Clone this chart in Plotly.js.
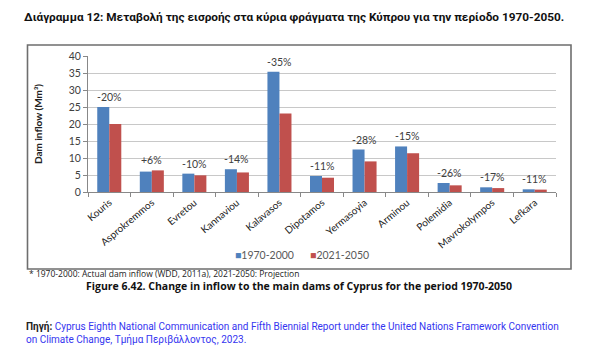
<!DOCTYPE html>
<html>
<head>
<meta charset="utf-8">
<script src="https://cdn.plot.ly/plotly-3.0.1.min.js"></script>
<style>
  html, body { margin: 0; padding: 0; background: #ffffff; }
  #chart { width: 600px; height: 354px; }
</style>
</head>
<body>
<div id="chart"></div>
<script>
// Main dams of Cyprus and their mean annual inflow (Mm³)
const dams = ["Kouris", "Asprokremmos", "Evretou", "Kannaviou", "Kalavasos", "Dipotamos",
              "Yermasoyia", "Arminou", "Polemidia", "Mavrokolympos", "Lefkara"];
const inflow1970_2000 = [25.0, 6.0, 5.4, 6.7, 35.4, 4.7, 12.5, 13.4, 2.65, 1.38, 0.79];
const inflow2021_2050 = [20.0, 6.36, 4.9, 5.75, 23.1, 4.2, 9.0, 11.4, 1.96, 1.15, 0.70];
const changeLabels = ["-20%", "+6%", "-10%", "-14%", "-35%", "-11%", "-28%", "-15%", "-26%", "-17%", "-11%"];
const seriesNames = ["1970-2000", "2021-2050"];
const seriesColors = ["#4f81bd", "#c0504d"];
const yTicks = [0, 5, 10, 15, 20, 25, 30, 35, 40];

// plot area in pixels
const L = 88, R = 556, T = 56, B = 192;
const W = 600, H = 354;
const xp = px => (px - L) / (R - L);
const yp = py => (B - py) / (B - T);

const chartFont = "Lato, 'Open Sans', sans-serif";

const traces = [
  { type: "bar", name: seriesNames[0], x: dams, y: inflow1970_2000,
    marker: { color: seriesColors[0] } },
  { type: "bar", name: seriesNames[1], x: dams, y: inflow2021_2050,
    marker: { color: seriesColors[1] } }
];

// change labels above each pair of bars
const changeNotes = dams.map((d, i) => ({
  x: d, y: Math.max(inflow1970_2000[i], inflow2021_2050[i]),
  xref: "x", yref: "y", text: changeLabels[i], showarrow: false,
  yanchor: "bottom", yshift: 2,
  font: { family: chartFont, size: 10.5, color: "#404040" }
}));

// compact legend row under the axis
const legendText = seriesNames.map((n, i) =>
  "<span style='color:" + seriesColors[i] + "'>■</span>" + n).join("      ");

const textNotes = [
  { x: xp(302), y: yp(255), xref: "paper", yref: "paper", xanchor: "center", yanchor: "middle",
    showarrow: false, text: legendText,
    font: { family: chartFont, size: 10.5, color: "#595959" } },
  { // footnote under the chart frame
    x: xp(27), y: yp(273), xref: "paper", yref: "paper", xanchor: "left", yanchor: "middle",
    showarrow: false, text: "* 1970-2000: Actual dam inflow (WDD, 2011a), 2021-2050: Projection",
    font: { family: "'Open Sans', sans-serif", size: 8.5, color: "#222222" } },
  { // figure caption
    x: xp(299), y: yp(286), xref: "paper", yref: "paper", xanchor: "center", yanchor: "middle",
    showarrow: false, text: "<b>Figure 6.42. Change in inflow to the main dams of Cyprus for the period 1970-2050</b>",
    font: { family: "'Open Sans', sans-serif", size: 10.5, color: "#111111" } },
  { // source
    x: xp(24), y: yp(333), xref: "paper", yref: "paper", xanchor: "left", yanchor: "middle",
    align: "left", showarrow: false,
    text: "<b><span style='color:#222222'>Πηγή:</span></b> Cyprus Eighth National Communication and Fifth Biennial Report under the United Nations Framework Convention<br>on Climate Change, Τμήμα Περιβάλλοντος, 2023.",
    font: { family: "Roboto, sans-serif", size: 10, color: "#3535f0" } }
];

const layout = {
  width: W, height: H,
  margin: { l: L, r: W - R, t: T, b: H - B, pad: 0 },
  paper_bgcolor: "#ffffff", plot_bgcolor: "#ffffff",
  barmode: "group", bargap: 0.435, bargroupgap: 0,
  showlegend: false,
  title: {
    text: "<b>Διάγραμμα 12: Μεταβολή της εισροής στα κύρια φράγματα της Κύπρου για την περίοδο 1970-2050.</b>",
    x: 24 / W, xref: "container", xanchor: "left", y: 1 - 17 / H, yref: "container", yanchor: "middle",
    font: { family: "Roboto, sans-serif", size: 11.8, color: "#111111" }
  },
  xaxis: {
    type: "category", tickangle: -40, ticks: "outside", tickson: "boundaries",
    ticklen: 4, tickcolor: "#888888", showline: true, linecolor: "#888888", linewidth: 1,
    showgrid: false, zeroline: false,
    tickfont: { family: chartFont, size: 10, color: "#222222" }
  },
  yaxis: {
    range: [0, 40], tickvals: yTicks, ticks: "outside", ticklen: 4, tickcolor: "#888888",
    showline: true, linecolor: "#888888", linewidth: 1,
    showgrid: true, gridcolor: "#c8c8c8", gridwidth: 1, zeroline: false,
    tickfont: { family: chartFont, size: 10.5, color: "#404040" },
    title: { text: "<b>Dam inflow (Mm³)</b>", standoff: 24,
             font: { family: chartFont, size: 10, color: "#222222" } }
  },
  shapes: [
    { type: "rect", xref: "paper", yref: "paper",
      x0: xp(27.5), x1: xp(571), y0: yp(269), y1: yp(45),
      line: { color: "#6e6e6e", width: 1.6 }, fillcolor: "rgba(0,0,0,0)" }
  ],
  annotations: changeNotes.concat(textNotes)
};

Plotly.newPlot("chart", traces, layout, { displayModeBar: false, staticPlot: true });
</script>
</body>
</html>
